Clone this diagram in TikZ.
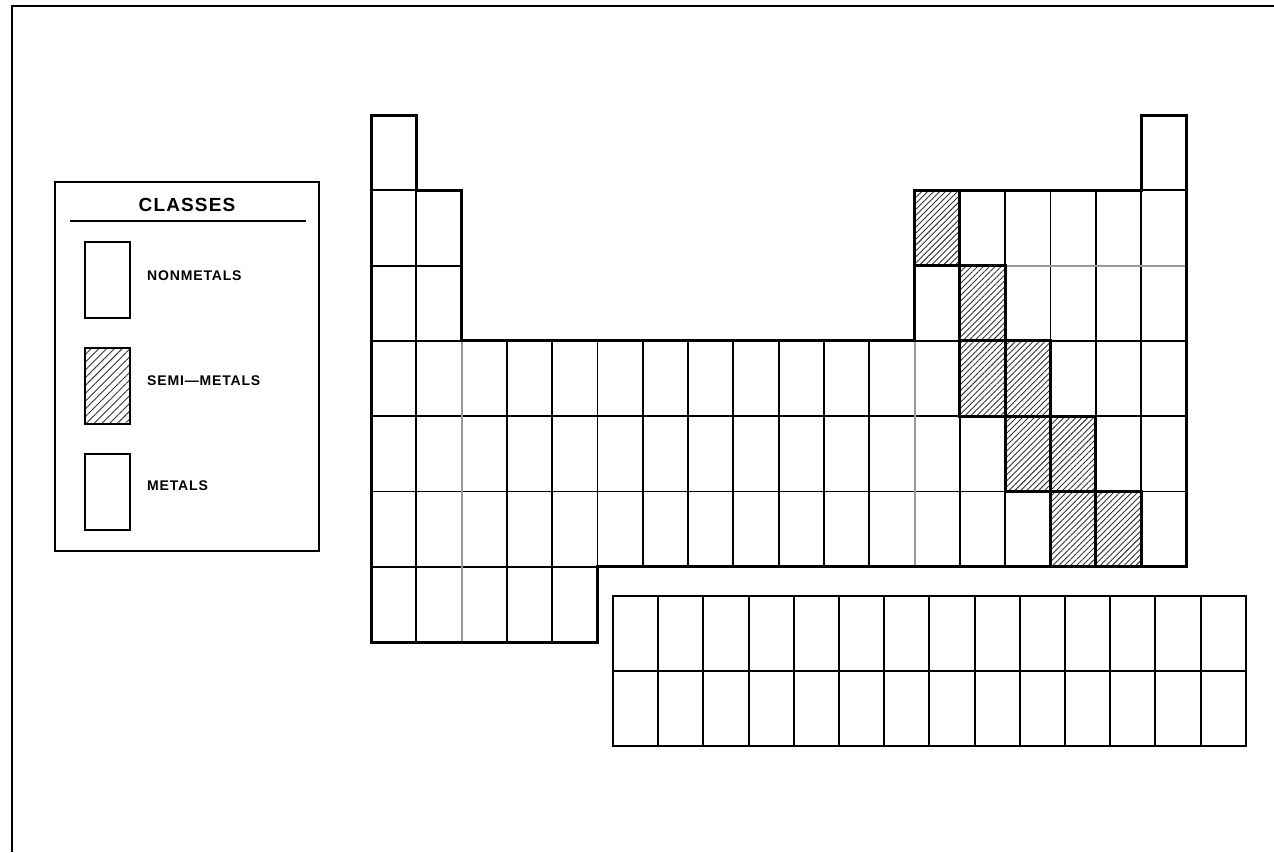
\documentclass[tikz,border=0pt]{standalone}
\usepackage{fontspec}
\setmainfont{Liberation Sans}
\newfontfamily\legendfont{Liberation Sans Bold}[LetterSpace=6]
\newfontfamily\titlefont{Liberation Sans Bold}[LetterSpace=6]
\usetikzlibrary{patterns.meta}
\tikzset{
  cellline/.style={line width=1.9pt, draw=black},
  thickline/.style={line width=3pt, draw=black, line join=miter},
  faint/.style={line width=1.9pt, draw=black!40},
  hatch/.style={pattern={Lines[angle=45,distance=4.2pt,line width=0.9pt]}, pattern color=black!80},
  leghatch/.style={pattern={Lines[angle=45,distance=5.5pt,line width=0.9pt]}, pattern color=black!80},
  legtext/.style={anchor=west, font=\legendfont\fontsize{14}{14}\selectfont, inner sep=0pt},
}
\def\cw{45.3}
\def\ch{75.3}
\begin{document}
\begin{tikzpicture}[x=1pt,y=-1pt]
\useasboundingbox (0,0) rectangle (1274,852);
% frame
\draw[line width=2.4pt] (12,852) -- (12,6) -- (1274,6);

% legend
\draw[line width=2.4pt] (55,182) rectangle (319,551);
\node[font=\titlefont\fontsize{19}{19}\selectfont, inner sep=0pt] (title) at (187,205) {CLASSES};
\coordinate (ulA) at (70,221);
\coordinate (ulB) at (306,221);
\draw[line width=1.8pt] (ulA) -- (ulB);
\draw[line width=2.2pt] (85,242) rectangle (130,318);
\fill[leghatch] (85,348) rectangle (130,424);
\draw[line width=2.2pt] (85,348) rectangle (130,424);
\draw[line width=2.2pt] (85,454) rectangle (130,530);
\node[legtext] (nm) at (147,276) {NONMETALS};
\node[legtext] (sm) at (147,381) {SEMI\symbol{"2014}METALS};
\node[legtext] (mt) at (147,486) {METALS};

% main table cells
\foreach \c in {1,18} {
  \draw[cellline] ({371+(\c-1)*\cw},{115}) rectangle +(\cw,\ch);
}
\foreach \r in {2,3} {
  \foreach \c in {1,2,13,14,15,16,17,18} {
    \draw[cellline] ({371+(\c-1)*\cw},{115+(\r-1)*\ch}) rectangle +(\cw,\ch);
  }
}
\foreach \r in {4,5,6} {
  \foreach \c in {1,...,18} {
    \draw[cellline] ({371+(\c-1)*\cw},{115+(\r-1)*\ch}) rectangle +(\cw,\ch);
  }
}
\foreach \c in {1,...,5} {
  \draw[cellline] ({371+(\c-1)*\cw},{115+6*\ch}) rectangle +(\cw,\ch);
}
% faint lines as in the reference
\draw[faint] ({371+2*\cw},{115+3*\ch}) -- ({371+2*\cw},{115+7*\ch});
\draw[faint] ({371+12*\cw},{115+3*\ch}) -- ({371+12*\cw},{115+6*\ch});
\draw[faint] ({371+14*\cw},{115+2*\ch}) -- ({371+18*\cw},{115+2*\ch});

% semi-metal cells
\foreach \c/\r in {13/2,14/3,14/4,15/4,15/5,16/5,16/6,17/6} {
  \fill[hatch] ({371+(\c-1)*\cw},{115+(\r-1)*\ch}) rectangle +(\cw,\ch);
}
\foreach \c/\r in {13/2,14/3,14/4,15/4,15/5,16/5,16/6,17/6} {
  \draw[thickline] ({371+(\c-1)*\cw},{115+(\r-1)*\ch}) rectangle +(\cw,\ch);
}

% outline of main table
\draw[thickline] (371,115) -- ({371+\cw},115) -- ({371+\cw},{115+\ch})
  -- ({371+2*\cw},{115+\ch}) -- ({371+2*\cw},{115+3*\ch})
  -- ({371+12*\cw},{115+3*\ch}) -- ({371+12*\cw},{115+\ch})
  -- ({371+17*\cw},{115+\ch}) -- ({371+17*\cw},115)
  -- ({371+18*\cw},115) -- ({371+18*\cw},{115+6*\ch})
  -- ({371+5*\cw},{115+6*\ch}) -- ({371+5*\cw},{115+7*\ch})
  -- (371,{115+7*\ch}) -- cycle;

% lanthanide / actinide block
\foreach \r in {0,1} {
  \foreach \c in {1,...,14} {
    \draw[cellline] ({613+(\c-1)*45.2},{596+\r*75}) rectangle +(45.2,75);
  }
}
\draw[line width=2.6pt] (613,596) rectangle ({613+14*45.2},746);
\end{tikzpicture}
\end{document}
